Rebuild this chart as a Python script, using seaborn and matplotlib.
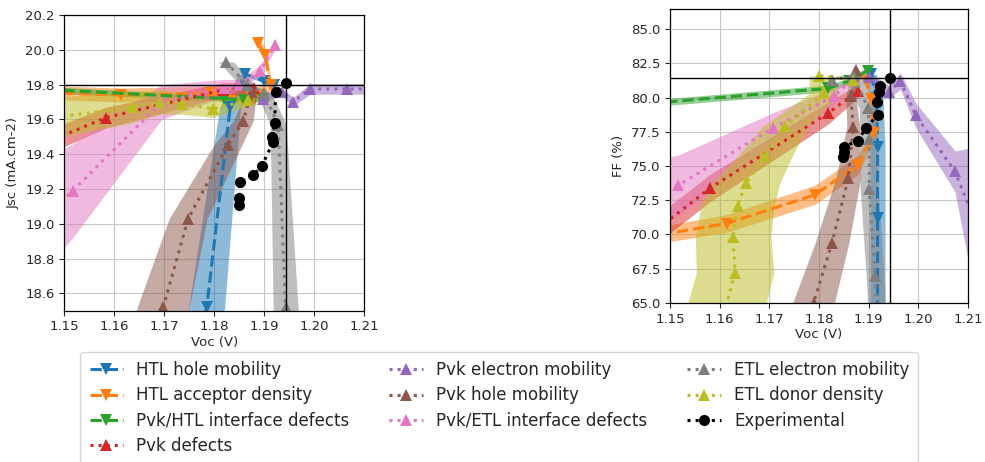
import numpy as np
import matplotlib
matplotlib.use("Agg")
import matplotlib.pyplot as plt
from matplotlib.ticker import FormatStrFormatter
import seaborn as sns

# Series names (legend order)
labels = ["HTL hole mobility", "HTL acceptor density", "Pvk/HTL interface defects",
          "Pvk defects", "Pvk electron mobility", "Pvk hole mobility",
          "Pvk/ETL interface defects", "ETL electron mobility", "ETL donor density"]

# ---- Jsc vs Voc (left panel): Voc, Jsc, band half-width ----
htl_mob_voc_j = [1.1768, 1.1785, 1.1832, 1.1862, 1.1900, 1.1920]
htl_mob_jsc = [18.20, 18.52, 19.67, 19.86, 19.82, 19.80]
htl_mob_bw_j = [0.0037, 0.0036, 0.0021, 0.0012, 0.0010, 0.0010]

htl_acc_voc_j = [1.1400, 1.1614, 1.1792, 1.1876, 1.1913, 1.1902, 1.1888]
htl_acc_jsc = [19.76, 19.74, 19.75, 19.72, 19.80, 19.97, 20.04]
htl_acc_bw_j = [0.04, 0.04, 0.04, 0.04, 0.04, 0.04, 0.04]

htl_if_voc_j = [1.1300, 1.1819, 1.1860, 1.1898]
htl_if_jsc = [19.795, 19.72, 19.71, 19.72]
htl_if_bw_j = [0.02, 0.015, 0.015, 0.015]

pvk_def_voc_j = [1.1450, 1.1583, 1.1818, 1.1879]
pvk_def_jsc = [19.45, 19.61, 19.77, 19.78]
pvk_def_bw_j = [0.07, 0.06, 0.04, 0.03]

pvk_emob_voc_j = [1.1898, 1.1935, 1.1958, 1.1992, 1.2065, 1.2150]
pvk_emob_jsc = [19.72, 19.76, 19.70, 19.775, 19.775, 19.775]
pvk_emob_bw_j = [0.02, 0.025, 0.025, 0.03, 0.03, 0.03]

pvk_hmob_voc_j = [1.1670, 1.1698, 1.1748, 1.1827, 1.1858, 1.1875]
pvk_hmob_jsc = [18.20, 18.52, 19.03, 19.45, 19.59, 19.76]
pvk_hmob_bw_j = [0.0055, 0.0052, 0.0038, 0.0028, 0.0020, 0.0010]

etl_if_voc_j = [1.1480, 1.1517, 1.1695, 1.1820, 1.1850, 1.1892, 1.1922]
etl_if_jsc = [19.10, 19.19, 19.70, 19.78, 19.80, 19.88, 20.03]
etl_if_bw_j = [0.30, 0.27, 0.10, 0.05, 0.03, 0.03, 0.03]

etl_mob_voc_j = [1.1824, 1.1865, 1.1900, 1.1928, 1.1943, 1.1948]
etl_mob_jsc = [19.93, 19.80, 19.75, 19.57, 18.52, 18.20]
etl_mob_bw_j = [0.0015, 0.0015, 0.0015, 0.0016, 0.0025, 0.0027]

etl_don_voc_j = [1.1400, 1.1635, 1.1692, 1.1735, 1.1798, 1.1868]
etl_don_jsc = [19.58, 19.67, 19.70, 19.69, 19.66, 19.71]
etl_don_bw_j = [0.13, 0.09, 0.07, 0.06, 0.05, 0.03]

# ---- FF vs Voc (right panel) ----
htl_mob_voc_ff = [1.1918, 1.1918, 1.1918, 1.1916, 1.1905]
htl_mob_ff = [62.0, 71.2, 76.4, 80.0, 81.7]
htl_mob_bw_ff = [0.0015, 0.0015, 0.0015, 0.0013, 0.0010]

htl_acc_voc_ff = [1.1450, 1.1614, 1.1792, 1.1879, 1.1910, 1.1905, 1.1895]
htl_acc_ff = [69.8, 70.8, 72.9, 75.1, 77.4, 79.9, 81.2]
htl_acc_bw_ff = [0.6, 0.65, 0.7, 0.7, 0.5, 0.4, 0.3]

htl_if_voc_ff = [1.1200, 1.1819, 1.1860, 1.1898]
htl_if_ff = [78.77, 80.67, 81.2, 81.96]
htl_if_bw_ff = [0.25, 0.25, 0.25, 0.25]

pvk_def_voc_ff = [1.1450, 1.1581, 1.1818, 1.1879]
pvk_def_ff = [69.7, 73.4, 78.85, 80.5]
pvk_def_bw_ff = [1.0, 1.0, 0.8, 0.5]

pvk_emob_voc_ff = [1.1900, 1.1940, 1.1964, 1.1995, 1.2074, 1.2130]
pvk_emob_ff = [81.5, 80.4, 81.2, 78.7, 74.6, 69.5]
pvk_emob_bw_ff = [0.4, 0.5, 0.6, 0.9, 1.5, 7.0]

pvk_hmob_voc_ff = [1.1775, 1.1789, 1.1826, 1.1859, 1.1869, 1.1864, 1.1874]
pvk_hmob_ff = [63.0, 65.0, 69.36, 74.1, 77.87, 80.1, 82.0]
pvk_hmob_bw_ff = [0.0045, 0.0042, 0.0034, 0.0025, 0.0013, 0.0010, 0.0008]

etl_if_voc_ff = [1.1480, 1.1517, 1.1708, 1.1830, 1.1870]
etl_if_ff = [73.2, 73.6, 77.8, 80.1, 81.4]
etl_if_bw_ff = [2.3, 2.2, 1.1, 0.6, 0.3]

etl_mob_voc_ff = [1.1826, 1.1870, 1.1899, 1.1901, 1.1901, 1.1913, 1.1920]
etl_mob_ff = [81.3, 81.6, 79.2, 77.0, 73.3, 67.0, 62.0]
etl_mob_bw_ff = [0.0015, 0.0015, 0.0018, 0.0018, 0.0018, 0.0018, 0.0018]

etl_don_voc_ff = [1.1600, 1.1631, 1.1627, 1.1636, 1.1653, 1.1691, 1.1732, 1.1811, 1.1800, 1.1869]
etl_don_ff = [63.0, 67.2, 69.8, 72.1, 73.74, 75.7, 77.9, 80.3, 81.6, 81.3]
etl_don_bw_ff = [0.0080, 0.0078, 0.0076, 0.0074, 0.0068, 0.0055, 0.0045, 0.0030, 0.0020, 0.0010]

# ---- Experimental ----
exp_voc = [1.1944, 1.1923, 1.1921, 1.1916, 1.1918, 1.1895, 1.1878, 1.1851, 1.1850, 1.1849]
exp_jsc = [19.81, 19.76, 19.58, 19.50, 19.47, 19.33, 19.28, 19.24, 19.15, 19.11]
exp_ff = [81.4, 80.84, 80.42, 79.7, 78.72, 77.8, 76.85, 76.41, 76.0, 75.68]
best_voc, best_jsc, best_ff = 1.1943, 19.80, 81.42

sns.set_style("ticks")
plt.rcParams["font.family"] = ["DejaVu Sans"]

colors = sns.color_palette("tab10")
styles = ["--", "--", "--", ":", ":", ":", ":", ":", ":"]
marks = ["v", "v", "v", "^", "^", "^", "^", "^", "^"]

left_series = [
    (htl_mob_voc_j, htl_mob_jsc, htl_mob_bw_j, "x"),
    (htl_acc_voc_j, htl_acc_jsc, htl_acc_bw_j, "y"),
    (htl_if_voc_j, htl_if_jsc, htl_if_bw_j, "y"),
    (pvk_def_voc_j, pvk_def_jsc, pvk_def_bw_j, "y"),
    (pvk_emob_voc_j, pvk_emob_jsc, pvk_emob_bw_j, "y"),
    (pvk_hmob_voc_j, pvk_hmob_jsc, pvk_hmob_bw_j, "x"),
    (etl_if_voc_j, etl_if_jsc, etl_if_bw_j, "y"),
    (etl_mob_voc_j, etl_mob_jsc, etl_mob_bw_j, "x"),
    (etl_don_voc_j, etl_don_jsc, etl_don_bw_j, "y"),
]
right_series = [
    (htl_mob_voc_ff, htl_mob_ff, htl_mob_bw_ff, "x"),
    (htl_acc_voc_ff, htl_acc_ff, htl_acc_bw_ff, "y"),
    (htl_if_voc_ff, htl_if_ff, htl_if_bw_ff, "y"),
    (pvk_def_voc_ff, pvk_def_ff, pvk_def_bw_ff, "y"),
    (pvk_emob_voc_ff, pvk_emob_ff, pvk_emob_bw_ff, "y"),
    (pvk_hmob_voc_ff, pvk_hmob_ff, pvk_hmob_bw_ff, "x"),
    (etl_if_voc_ff, etl_if_ff, etl_if_bw_ff, "y"),
    (etl_mob_voc_ff, etl_mob_ff, etl_mob_bw_ff, "x"),
    (etl_don_voc_ff, etl_don_ff, etl_don_bw_ff, "x"),
]

fig = plt.figure(figsize=(9.85, 4.62), dpi=100)
ax1 = fig.add_axes([0.0653, 0.3275, 0.3043, 0.6400])
ax2 = fig.add_axes([0.6802, 0.3442, 0.3025, 0.6374])


def draw(ax, series):
    for i, (voc, val, bw, d) in enumerate(series):
        voc_a, val_a, bw_a = np.array(voc), np.array(val), np.array(bw)
        if d == "x":
            ax.fill_betweenx(val_a, voc_a - bw_a, voc_a + bw_a, color=colors[i], alpha=0.5, lw=0)
        else:
            ax.fill_between(voc_a, val_a - bw_a, val_a + bw_a, color=colors[i], alpha=0.5, lw=0)
        sns.lineplot(x=voc, y=val, ax=ax, sort=False, estimator=None, errorbar=None,
                     color=colors[i], linestyle=styles[i], marker=marks[i],
                     markersize=9, markeredgewidth=0, linewidth=2.2, label=labels[i])


draw(ax1, left_series)
sns.lineplot(x=exp_voc, y=exp_jsc, ax=ax1, sort=False, estimator=None, errorbar=None,
             color="black", linestyle=":", marker="o", markersize=8, markeredgewidth=0,
             linewidth=2.2, label="Experimental")
ax1.axhline(best_jsc, color="black", lw=1)
ax1.axvline(best_voc, color="black", lw=1)

draw(ax2, right_series)
sns.lineplot(x=exp_voc, y=exp_ff, ax=ax2, sort=False, estimator=None, errorbar=None,
             color="black", linestyle=":", marker="o", markersize=8, markeredgewidth=0,
             linewidth=2.2, label="Experimental")
ax2.axhline(best_ff, color="black", lw=1)
ax2.axvline(best_voc, color="black", lw=1)

for ax in (ax1, ax2):
    ax.set_xlim(1.15, 1.21)
    ax.set_xticks(np.arange(1.15, 1.2101, 0.01))
    ax.xaxis.set_major_formatter(FormatStrFormatter("%.2f"))
    ax.grid(True, color="0.78", lw=0.8)
    ax.set_axisbelow(True)
    ax.tick_params(labelsize=9.5, length=3.5, color="0.15")
    for s in ax.spines.values():
        s.set_color("black")
        s.set_linewidth(0.9)
    ax.set_xlabel("Voc (V)", fontsize=9.5, labelpad=2)

ax1.set_ylim(18.5, 20.2)
ax1.set_yticks(np.arange(18.6, 20.21, 0.2))
ax1.yaxis.set_major_formatter(FormatStrFormatter("%.1f"))
ax1.set_ylabel("Jsc (mA.cm-2)", fontsize=9.5)

ax2.set_ylim(65, 86.5)
ax2.set_yticks(np.arange(65, 85.1, 2.5))
ax2.yaxis.set_major_formatter(FormatStrFormatter("%.1f"))
ax2.set_ylabel("FF (%)", fontsize=9.5)

handles, lab = ax1.get_legend_handles_labels()
ax1.legend_.remove()
ax2.legend_.remove()
fig.legend(handles, lab, loc="upper center", bbox_to_anchor=(0.507, 0.238), ncol=3,
           fontsize=12, frameon=True, fancybox=True, edgecolor="0.8",
           handlelength=2.0, columnspacing=2.4, labelspacing=0.43,
           borderaxespad=0.0, borderpad=0.55)

fig.savefig("out.png", dpi=100)
